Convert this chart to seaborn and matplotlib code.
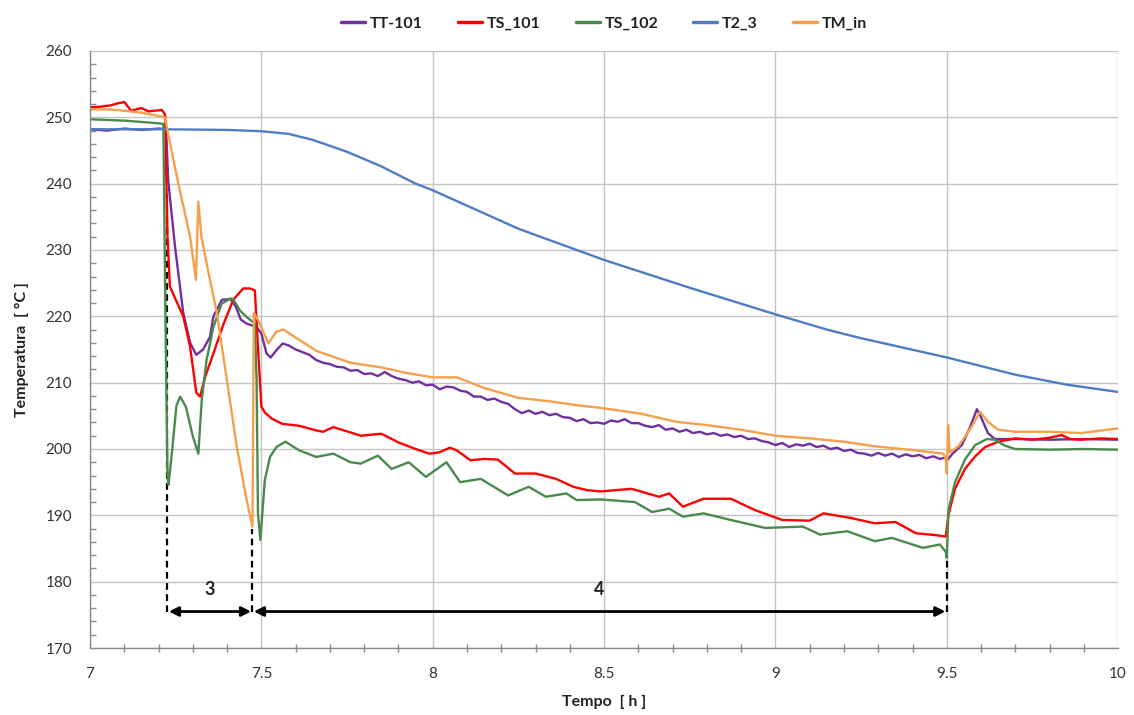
import numpy as np
import pandas as pd
import matplotlib
matplotlib.use("Agg")
import matplotlib.pyplot as plt
from matplotlib.ticker import MultipleLocator
import seaborn as sns

# ---------------- data ----------------
tt101_t = [7.00, 7.05, 7.10, 7.15, 7.20, 7.222, 7.228, 7.248, 7.272, 7.292, 7.31, 7.33, 7.35, 7.36, 7.385,
           7.41, 7.425, 7.44, 7.457, 7.486, 7.50, 7.515, 7.527, 7.544, 7.562, 7.58,
           7.60, 7.62, 7.64, 7.66, 7.68, 7.70, 7.72, 7.74, 7.76, 7.78, 7.80, 7.82, 7.84, 7.86, 7.88, 7.90,
           7.92, 7.94, 7.96, 7.98, 8.00, 8.02, 8.04, 8.06, 8.08, 8.10, 8.12, 8.14, 8.16, 8.18, 8.20, 8.22,
           8.24, 8.26, 8.28, 8.30, 8.32, 8.34, 8.36, 8.38, 8.40, 8.42, 8.44, 8.46, 8.48, 8.50, 8.52, 8.54,
           8.56, 8.58, 8.60, 8.62, 8.64, 8.66, 8.68, 8.70, 8.72, 8.74, 8.76, 8.78, 8.80, 8.82, 8.84, 8.86,
           8.88, 8.90, 8.92, 8.94, 8.96, 8.98, 9.00, 9.02, 9.04, 9.06, 9.08, 9.10, 9.12, 9.14, 9.16, 9.18,
           9.20, 9.22, 9.24, 9.26, 9.28, 9.30, 9.32, 9.34, 9.36, 9.38, 9.40, 9.42, 9.44, 9.46, 9.48, 9.495,
           9.50, 9.515, 9.544, 9.568, 9.588, 9.60, 9.62, 9.64, 9.70, 9.80, 9.90, 10.0]
tt101_v = [248.2, 248.0, 248.3, 248.1, 248.3, 248.2, 240.5, 230.5, 220.5, 216.0, 214.2, 215.0, 216.9, 220.0, 222.5,
           222.6, 221.5, 219.5, 218.9, 218.4, 217.4, 214.4, 213.8, 214.9, 215.9, 215.6,
           215.0, 214.6, 214.2, 213.4, 213.0, 212.8, 212.4, 212.3, 211.8, 211.9, 211.3, 211.4, 211.0, 211.6, 211.0, 210.6,
           210.4, 210.0, 210.2, 209.6, 209.7, 209.0, 209.4, 209.3, 208.8, 208.6, 207.9, 207.9, 207.4, 207.6, 207.1, 206.8,
           206.0, 205.4, 205.8, 205.3, 205.6, 205.1, 205.3, 204.8, 204.7, 204.2, 204.5, 203.9, 204.0, 203.8, 204.3, 204.1,
           204.5, 203.9, 203.9, 203.5, 203.3, 203.6, 202.9, 203.1, 202.6, 202.9, 202.4, 202.6, 202.2, 202.4, 202.0, 202.2,
           201.8, 202.0, 201.5, 201.6, 201.2, 201.0, 200.6, 200.9, 200.3, 200.7, 200.5, 200.8, 200.3, 200.5, 200.0, 200.2,
           199.7, 199.9, 199.4, 199.3, 199.0, 199.4, 199.0, 199.3, 198.8, 199.2, 198.9, 199.1, 198.6, 198.9, 198.5, 198.7,
           198.2, 199.2, 200.6, 203.3, 206.0, 204.8, 202.4, 201.5, 201.5, 201.4, 201.5, 201.4]

ts101_t = [7.00, 7.03, 7.06, 7.08, 7.10, 7.12, 7.15, 7.17, 7.19, 7.21, 7.219, 7.226, 7.233, 7.25, 7.272, 7.292,
           7.31, 7.321, 7.336, 7.36, 7.39, 7.418, 7.447, 7.467, 7.481, 7.49, 7.50, 7.51, 7.53, 7.56, 7.61,
           7.66, 7.68, 7.71, 7.76, 7.79, 7.85, 7.90, 7.95, 7.99, 8.02, 8.05, 8.07, 8.11, 8.15, 8.19, 8.24,
           8.30, 8.36, 8.41, 8.45, 8.49, 8.58, 8.66, 8.69, 8.73, 8.79, 8.87, 8.94, 9.02, 9.10, 9.14, 9.22,
           9.29, 9.35, 9.41, 9.47, 9.497, 9.505, 9.524, 9.553, 9.583, 9.612, 9.65, 9.70, 9.75, 9.80, 9.835,
           9.86, 9.89, 9.95, 10.0]
ts101_v = [251.5, 251.6, 251.8, 252.1, 252.3, 251.0, 251.4, 250.9, 251.0, 251.1, 250.4, 232.0, 224.5, 222.5, 220.0, 215.4,
           208.5, 207.9, 210.9, 214.4, 218.9, 222.5, 224.2, 224.2, 223.9, 215.4, 206.4, 205.5, 204.6, 203.8, 203.5,
           202.8, 202.6, 203.3, 202.5, 202.0, 202.3, 201.0, 200.0, 199.3, 199.5, 200.2, 199.8, 198.3, 198.5, 198.4, 196.3,
           196.3, 195.5, 194.3, 193.8, 193.6, 194.0, 192.8, 193.3, 191.3, 192.5, 192.5, 190.8, 189.3, 189.2, 190.3, 189.6,
           188.8, 189.0, 187.3, 187.0, 186.8, 190.1, 194.0, 197.0, 198.9, 200.3, 201.1, 201.6, 201.4, 201.7, 202.1,
           201.5, 201.4, 201.6, 201.5]

ts102_t = [7.00, 7.10, 7.20, 7.214, 7.22, 7.226, 7.229, 7.24, 7.252, 7.263, 7.28, 7.30, 7.316, 7.326, 7.34,
           7.36, 7.384, 7.41, 7.418, 7.437, 7.457, 7.481, 7.486, 7.49, 7.497, 7.51, 7.525, 7.544, 7.57, 7.61,
           7.66, 7.71, 7.76, 7.79, 7.84, 7.88, 7.93, 7.98, 8.04, 8.08, 8.14, 8.22, 8.28, 8.33, 8.39, 8.42,
           8.49, 8.59, 8.64, 8.69, 8.73, 8.79, 8.87, 8.97, 9.08, 9.13, 9.21, 9.29, 9.34, 9.43, 9.48, 9.497,
           9.50, 9.505, 9.524, 9.553, 9.583, 9.617, 9.64, 9.67, 9.70, 9.80, 9.90, 10.0]
ts102_v = [249.7, 249.5, 249.1, 249.0, 220.0, 196.0, 194.6, 200.0, 206.5, 207.9, 206.3, 201.9, 199.3, 207.4, 213.4,
           218.4, 221.9, 222.7, 222.6, 220.9, 219.9, 218.9, 210.4, 190.3, 186.3, 195.3, 198.8, 200.3, 201.1, 199.8,
           198.8, 199.3, 198.0, 197.8, 199.0, 197.0, 198.0, 195.8, 198.0, 195.0, 195.5, 193.0, 194.3, 192.8, 193.3, 192.3,
           192.4, 192.0, 190.5, 191.0, 189.8, 190.3, 189.3, 188.1, 188.3, 187.1, 187.6, 186.1, 186.6, 185.1, 185.6, 184.5,
           183.6, 190.8, 195.0, 198.4, 200.6, 201.5, 201.4, 200.5, 200.0, 199.9, 200.0, 199.9]

t23_t = [7.00, 7.20, 7.40, 7.50, 7.58, 7.65, 7.75, 7.85, 7.95, 8.00, 8.25, 8.50, 8.75, 9.00, 9.15, 9.25,
         9.50, 9.70, 9.85, 10.0]
t23_v = [248.2, 248.2, 248.1, 247.9, 247.5, 246.6, 244.8, 242.6, 240.0, 239.0, 233.2, 228.5, 224.3, 220.3, 218.0, 216.7,
         213.8, 211.2, 209.7, 208.6]

tmin_t = [7.00, 7.05, 7.10, 7.15, 7.20, 7.218, 7.224, 7.243, 7.262, 7.292, 7.309, 7.316, 7.325, 7.34, 7.37,
          7.399, 7.428, 7.457, 7.474, 7.478, 7.496, 7.52, 7.544, 7.564, 7.60, 7.66, 7.76, 7.85, 7.92, 8.00,
          8.07, 8.15, 8.25, 8.34, 8.42, 8.49, 8.61, 8.71, 8.80, 8.90, 9.00, 9.10, 9.20, 9.29, 9.39, 9.49,
          9.497, 9.50, 9.504, 9.508, 9.534, 9.573, 9.597, 9.62, 9.65, 9.70, 9.80, 9.89, 10.0]
tmin_v = [251.2, 251.2, 251.0, 250.7, 250.2, 250.0, 248.6, 243.6, 239.0, 232.0, 225.5, 237.3, 232.0, 228.0, 220.5,
          210.5, 200.4, 192.3, 188.3, 220.5, 218.9, 215.9, 217.7, 218.0, 216.8, 214.8, 213.0, 212.3, 211.5, 210.8,
          210.8, 209.2, 207.7, 207.2, 206.6, 206.2, 205.3, 204.1, 203.6, 202.9, 202.0, 201.6, 201.1, 200.4, 199.9, 199.3,
          198.5, 196.3, 203.6, 199.5, 200.4, 203.4, 205.6, 204.1, 202.9, 202.6, 202.6, 202.4, 203.1]

series_names = ["TT-101", "TS_101", "TS_102", "T2_3", "TM_in"]
series_colors = ["#7030A0", "#FF0000", "#4A8A4C", "#4F7DC2", "#F5A04C"]

phase_bounds = [7.226, 7.474, 9.50]
phase_tops = [239.0, 188.0, 184.0]
phase_labels = ["3", "4"]
arrow_y = 175.5

# ---------------- build frame ----------------
frames = []
for name, t, v in zip(series_names,
                      [tt101_t, ts101_t, ts102_t, t23_t, tmin_t],
                      [tt101_v, ts101_v, ts102_v, t23_v, tmin_v]):
    frames.append(pd.DataFrame({"t": t, "T": v, "series": name}))
df = pd.concat(frames, ignore_index=True)

sns.set_theme(style="white")
plt.rcParams["font.family"] = ["Lato", "DejaVu Sans"]

fig = plt.figure(figsize=(11.34, 7.15), dpi=100)
ax = fig.add_axes([0.0794, 0.0937, 0.9066, 0.835])

sns.lineplot(data=df, x="t", y="T", hue="series", hue_order=series_names,
             palette=dict(zip(series_names, series_colors)), sort=False,
             estimator=None, units="series", linewidth=1.7, ax=ax, legend=True)

ax.set_xlim(7, 10)
ax.set_ylim(170, 260)
ax.xaxis.set_major_locator(MultipleLocator(0.5))
ax.xaxis.set_minor_locator(MultipleLocator(0.1))
ax.yaxis.set_major_locator(MultipleLocator(10))
ax.yaxis.set_minor_locator(MultipleLocator(2))
ax.set_xticklabels([("%g" % v) for v in ax.get_xticks()])
ax.grid(True, which="major", color="#c4c4c4", linewidth=1.0)
ax.set_axisbelow(True)
for s in ["top", "right"]:
    ax.spines[s].set_visible(False)
for s in ["left", "bottom"]:
    ax.spines[s].set_color("#8a8a8a")
    ax.spines[s].set_linewidth(1.0)
ax.tick_params(axis="y", which="major", direction="out", length=5, color="#8a8a8a",
               labelsize=11, pad=8, labelcolor="#333333")
ax.tick_params(axis="y", which="minor", direction="in", length=4, color="#8a8a8a", left=True)
ax.tick_params(axis="x", which="major", direction="inout", length=8, color="#8a8a8a",
               labelsize=11, pad=10, labelcolor="#333333")
ax.tick_params(axis="x", which="minor", direction="inout", length=6, color="#8a8a8a", bottom=True)

ax.set_xlabel("Tempo  [ h ]", fontsize=11.5, fontweight="bold", labelpad=10, color="#222222")
ax.set_ylabel("Temperatura  [ °C ]", fontsize=11.5, fontweight="bold", labelpad=12, color="#222222")

# phase annotations
for xb, top in zip(phase_bounds, phase_tops):
    ax.plot([xb, xb], [arrow_y, top], color="black", linestyle=(0, (3, 2)), linewidth=1.6, zorder=1)
gap = 0.004
for i, lab in enumerate(phase_labels):
    x0, x1 = phase_bounds[i] + gap, phase_bounds[i + 1] - gap
    ax.annotate("", xy=(x1, arrow_y), xytext=(x0, arrow_y),
                arrowprops=dict(arrowstyle="<|-|>", color="black", lw=2.0,
                                mutation_scale=14, shrinkA=0, shrinkB=0))
    ax.text((x0 + x1) / 2, arrow_y + 2.0, lab, ha="center", va="bottom",
            fontsize=13, fontweight="bold", color="#222222")

leg = ax.legend(loc="lower center", bbox_to_anchor=(0.5, 1.01), ncol=5, frameon=False,
                handlelength=1.5, handletextpad=0.3, columnspacing=2.2, fontsize=11.5)
for txt in leg.get_texts():
    txt.set_fontweight("bold")
    txt.set_color("#222222")
for h in leg.legend_handles:
    h.set_linewidth(2.5)

fig.savefig("out.png", dpi=100)
